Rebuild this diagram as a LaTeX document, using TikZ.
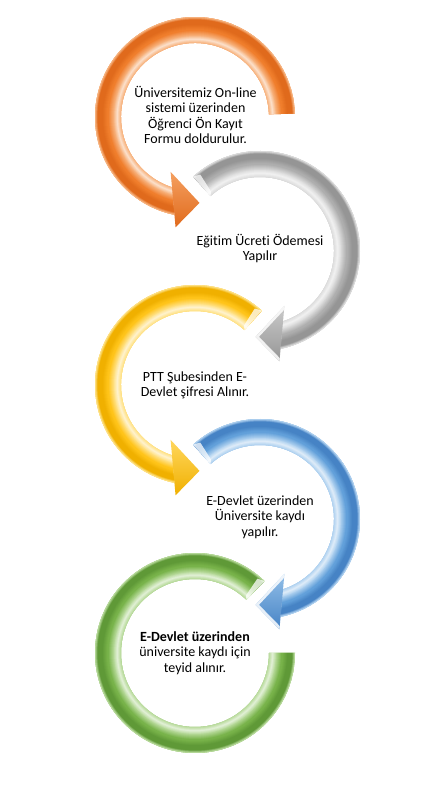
\documentclass[tikz,border=0pt]{standalone}
\usepackage{fontspec}
\setmainfont{Carlito}[Ligatures=NoCommon]
\definecolor{orL}{HTML}{F8B683}\definecolor{orB}{HTML}{F07E2C}\definecolor{orD}{HTML}{E06A1C}
\definecolor{grL}{HTML}{DEDEDE}\definecolor{grB}{HTML}{AEAEAE}\definecolor{grD}{HTML}{959595}
\definecolor{yeL}{HTML}{FFE38A}\definecolor{yeB}{HTML}{FFC419}\definecolor{yeD}{HTML}{F0B000}
\definecolor{blL}{HTML}{B2D3F1}\definecolor{blB}{HTML}{62A0DA}\definecolor{blD}{HTML}{4683C5}
\definecolor{gnL}{HTML}{BADC9E}\definecolor{gnB}{HTML}{78B34A}\definecolor{gnD}{HTML}{5F9937}
% smooth concentric bands that give the tube its rounded look (light, base, dark)
\newcommand\tubebands[3]{%
  \fill[#2] (0,0) circle (113);
  \foreach \r in {73.5,74,...,100.5}{%
    \pgfmathtruncatemacro\pL{min(100,max(0,100-(\r-81)*100/6))}%
    \pgfmathtruncatemacro\pD{min(100,max(0,(\r-88)*20))}%
    \pgfmathtruncatemacro\pR{min(100,max(0,(\r-97.5)*40))}%
    \pgfmathtruncatemacro\pW{max(0,60-abs(\r-78)*18)}%
    \colorlet{bandA}{#1!\pL!#2}%
    \colorlet{bandB}{#3!\pD!bandA}%
    \colorlet{bandC}{#1!\pR!bandB}%
    \colorlet{bandD}{white!\pW!bandC}%
    \draw[line width=1pt, color=bandD] (0,0) circle (\r);
  }%
}
\tikzset{
  txt/.style={align=center, font=\fontsize{14}{15.5}\selectfont, text=black, inner sep=0pt},
  facet/.style={fill=white, fill opacity=0.75},
  bevel/.style={draw=white, line width=5pt, draw opacity=0.85, line join=round},
}
\begin{document}
\begin{tikzpicture}[x=1pt,y=1pt]
\useasboundingbox (0,0) rectangle (433,788);

% ---- step 1: orange, counter-clockwise
\begin{scope}[shift={(195,671)}]
  \begin{scope}
    \clip (2:100) arc[start angle=2, end angle=258, radius=100] -- (252:74)
          arc[start angle=252, end angle=2, radius=74] -- cycle;
    \tubebands{orL}{orB}{orD}
  \end{scope}
  \shade[top color=orL!60!orB, bottom color=orD] (260:112) -- (273:86) -- (246:60) -- cycle;
\end{scope}

% ---- step 2: gray, clockwise
\begin{scope}[shift={(260,537)}]
  \begin{scope}
    \clip (132:100) arc[start angle=132, end angle=-78, radius=100] -- (-72:74)
          arc[start angle=-72, end angle=132, radius=74] -- cycle;
    \tubebands{grL}{grB}{grD}
  \end{scope}
  \fill[facet] (132:100) -- (132:74) -- (129.5:77) -- (128:97) -- cycle;
  \shade[top color=grL!60!grB, bottom color=grD] (-80:112) -- (-93:86) -- (-66:60) -- cycle;
  \begin{scope}
    \clip (-80:112) -- (-93:86) -- (-66:60) -- cycle;
    \draw[bevel] (-66:60) -- (-93:86) -- (-80:112);
  \end{scope}
\end{scope}

% ---- step 3: yellow, counter-clockwise
\begin{scope}[shift={(195,403)}]
  \begin{scope}
    \clip (48:100) arc[start angle=48, end angle=258, radius=100] -- (252:74)
          arc[start angle=252, end angle=48, radius=74] -- cycle;
    \tubebands{yeL}{yeB}{yeD}
  \end{scope}
  \fill[facet] (48:100) -- (48:74) -- (50.5:77) -- (52:97) -- cycle;
  \shade[top color=yeL!60!yeB, bottom color=yeD] (260:112) -- (273:86) -- (246:60) -- cycle;
\end{scope}

% ---- step 4: blue, clockwise
\begin{scope}[shift={(260,269)}]
  \begin{scope}
    \clip (132:100) arc[start angle=132, end angle=-78, radius=100] -- (-72:74)
          arc[start angle=-72, end angle=132, radius=74] -- cycle;
    \tubebands{blL}{blB}{blD}
  \end{scope}
  \fill[facet] (132:100) -- (132:74) -- (129.5:77) -- (128:97) -- cycle;
  \shade[top color=blL!60!blB, bottom color=blD] (-80:112) -- (-93:86) -- (-66:60) -- cycle;
  \begin{scope}
    \clip (-80:112) -- (-93:86) -- (-66:60) -- cycle;
    \draw[bevel] (-66:60) -- (-93:86) -- (-80:112);
  \end{scope}
\end{scope}

% ---- step 5: green, open ring without a head
\begin{scope}[shift={(195,135)}]
  \begin{scope}
    \clip (46:100) arc[start angle=46, end angle=360, radius=100] -- (0:74)
          arc[start angle=360, end angle=46, radius=74] -- cycle;
    \tubebands{gnL}{gnB}{gnD}
  \end{scope}
  \fill[facet] (46:100) -- (46:74) -- (48.5:77) -- (50:97) -- cycle;
\end{scope}

% ---- captions
\node[txt] (s1) at (195.5,673) {Üniversitemiz On-line\\sistemi üzerinden\\Öğrenci Ön Kayıt\\Formu doldurulur.};
\node[txt] (s2) at (260,539.5) {Eğitim Ücreti Ödemesi\\Yapılır};
\node[txt] (s3) at (195,402.5) {PTT Şubesinden E-\\Devlet şifresi Alınır.};
\node[txt] (s4) at (260,271) {E-Devlet üzerinden\\Üniversite kaydı\\yapılır.};
\node[txt] (s5) at (195,135) {\textbf{E-Devlet üzerinden}\\üniversite kaydı için\\teyid alınır.};
\end{tikzpicture}
\end{document}
